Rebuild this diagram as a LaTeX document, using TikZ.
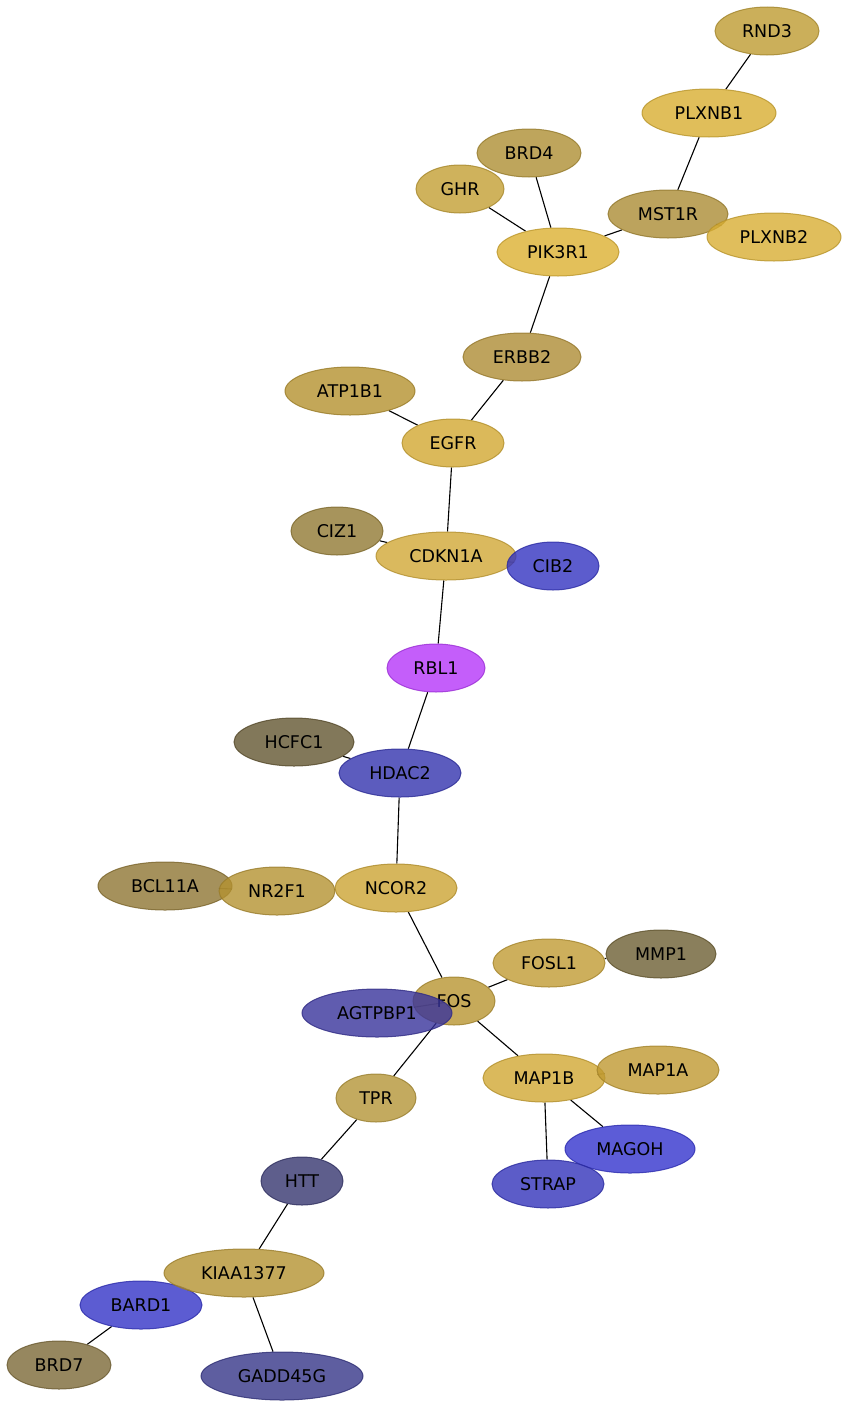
\documentclass[tikz,border=0pt]{standalone}
\usepackage{fontspec}
\setmainfont{DejaVu Sans}
\usepackage{tikz}
\usepackage{xcolor}
\usetikzlibrary{shapes.geometric,backgrounds}

\definecolor{cRND3}{RGB}{190,155,49}
\definecolor{cPLXNB1}{RGB}{216,174,49}
\definecolor{cBRD4}{RGB}{174,143,51}
\definecolor{cGHR}{RGB}{195,159,51}
\definecolor{cMST1R}{RGB}{171,140,52}
\definecolor{cPLXNB2}{RGB}{216,174,51}
\definecolor{cPIK3R1}{RGB}{220,176,49}
\definecolor{cERBB2}{RGB}{174,140,52}
\definecolor{cATP1B1}{RGB}{180,145,46}
\definecolor{cEGFR}{RGB}{210,168,49}
\definecolor{cCIZ1}{RGB}{145,121,51}
\definecolor{cCDKN1A}{RGB}{209,168,54}
\definecolor{cCIB2}{RGB}{51,51,192}
\definecolor{cRBL1}{RGB}{181,54,249}
\definecolor{cHCFC1}{RGB}{99,86,49}
\definecolor{cHDAC2}{RGB}{51,51,174}
\definecolor{cBCL11A}{RGB}{143,118,51}
\definecolor{cNR2F1}{RGB}{180,146,49}
\definecolor{cNCOR2}{RGB}{204,164,51}
\definecolor{cFOSL1}{RGB}{193,155,51}
\definecolor{cMMP1}{RGB}{109,95,51}
\definecolor{cFOS}{RGB}{184,149,49}
\definecolor{cAGTPBP1}{RGB}{56,51,155}
\definecolor{cMAP1B}{RGB}{209,168,51}
\definecolor{cMAP1A}{RGB}{191,153,49}
\definecolor{cTPR}{RGB}{180,149,55}
\definecolor{cMAGOH}{RGB}{51,51,205}
\definecolor{cSTRAP}{RGB}{51,51,186}
\definecolor{cHTT}{RGB}{54,54,111}
\definecolor{cKIAA1377}{RGB}{180,146,49}
\definecolor{cBARD1}{RGB}{51,51,199}
\definecolor{cBRD7}{RGB}{124,105,55}
\definecolor{cGADD45G}{RGB}{54,54,136}

\begin{document}
\begin{tikzpicture}
  [x=1pt,y=-1pt,
   every node/.style={ellipse,inner sep=0pt,minimum height=48pt,
     fill opacity=.8,draw opacity=.8,text opacity=1,line width=1pt,
     font=\fontsize{17.5}{20}\selectfont},
   prot/.style={fill=c#1,draw=c#1!85!black}]
  \useasboundingbox (0,0) rectangle (848,1408);
  \node[prot=RND3,minimum width=104pt] (rnd3) at (767,31) {RND3};
  \node[prot=PLXNB1,minimum width=134pt] (plxnb1) at (709,113) {PLXNB1};
  \node[prot=BRD4,minimum width=104pt] (brd4) at (529,153) {BRD4};
  \node[prot=GHR,minimum width=88pt] (ghr) at (460,189) {GHR};
  \node[prot=MST1R,minimum width=120pt] (mst1r) at (668,214) {MST1R};
  \node[prot=PLXNB2,minimum width=134pt] (plxnb2) at (774,237) {PLXNB2};
  \node[prot=PIK3R1,minimum width=122pt] (pik3r1) at (558,252) {PIK3R1};
  \node[prot=ERBB2,minimum width=118pt] (erbb2) at (522,357) {ERBB2};
  \node[prot=ATP1B1,minimum width=130pt] (atp1b1) at (350,391) {ATP1B1};
  \node[prot=EGFR,minimum width=102pt] (egfr) at (453,443) {EGFR};
  \node[prot=CIZ1,minimum width=92pt] (ciz1) at (337,531) {CIZ1};
  \node[prot=CDKN1A,minimum width=140pt] (cdkn1a) at (446,556) {CDKN1A};
  \node[prot=CIB2,minimum width=92pt] (cib2) at (553,566) {CIB2};
  \node[prot=RBL1,minimum width=98pt] (rbl1) at (436,668) {RBL1};
  \node[prot=HCFC1,minimum width=120pt] (hcfc1) at (294,742) {HCFC1};
  \node[prot=HDAC2,minimum width=122pt] (hdac2) at (400,773) {HDAC2};
  \node[prot=BCL11A,minimum width=134pt] (bcl11a) at (165,886) {BCL11A};
  \node[prot=NR2F1,minimum width=116pt] (nr2f1) at (277,891) {NR2F1};
  \node[prot=NCOR2,minimum width=122pt] (ncor2) at (396,888) {NCOR2};
  \node[prot=FOSL1,minimum width=112pt] (fosl1) at (549,963) {FOSL1};
  \node[prot=MMP1,minimum width=110pt] (mmp1) at (661,954) {MMP1};
  \node[prot=FOS,minimum width=82pt] (fos) at (454,1001) {FOS};
  \node[prot=AGTPBP1,minimum width=150pt] (agtpbp1) at (377,1013) {AGTPBP1};
  \node[prot=MAP1B,minimum width=122pt] (map1b) at (544,1078) {MAP1B};
  \node[prot=MAP1A,minimum width=122pt] (map1a) at (658,1070) {MAP1A};
  \node[prot=TPR,minimum width=80pt] (tpr) at (376,1098) {TPR};
  \node[prot=MAGOH,minimum width=130pt] (magoh) at (630,1149) {MAGOH};
  \node[prot=STRAP,minimum width=112pt] (strap) at (548,1184) {STRAP};
  \node[prot=HTT,minimum width=82pt] (htt) at (302,1181) {HTT};
  \node[prot=BARD1,minimum width=122pt] (bard1) at (141,1305) {BARD1};
  \node[prot=KIAA1377,minimum width=160pt] (kiaa1377) at (244,1273) {KIAA1377};
  \node[prot=BRD7,minimum width=104pt] (brd7) at (59,1365) {BRD7};
  \node[prot=GADD45G,minimum width=162pt] (gadd45g) at (282,1376) {GADD45G};

  % edges go behind the nodes
  \begin{pgfonlayer}{background}
  \foreach \from/\to in {rnd3/plxnb1,plxnb1/mst1r,mst1r/plxnb2,mst1r/pik3r1,
    ghr/pik3r1,brd4/pik3r1,pik3r1/erbb2,erbb2/egfr,atp1b1/egfr,egfr/cdkn1a,
    ciz1/cdkn1a,cdkn1a/cib2,cdkn1a/rbl1,rbl1/hdac2,hcfc1/hdac2,hdac2/ncor2,
    ncor2/nr2f1,nr2f1/bcl11a,ncor2/fos,fos/fosl1,fosl1/mmp1,fos/agtpbp1,
    fos/tpr,fos/map1b,map1b/map1a,map1b/magoh,map1b/strap,tpr/htt,
    htt/kiaa1377,kiaa1377/bard1,bard1/brd7,kiaa1377/gadd45g}
    \draw[line width=1.1pt] (\from) -- (\to);
  \end{pgfonlayer}
\end{tikzpicture}
\end{document}
